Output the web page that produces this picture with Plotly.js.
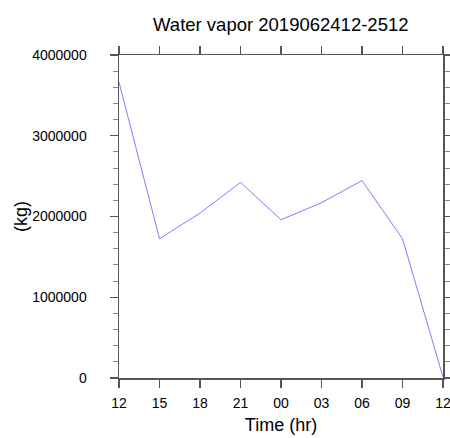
<!DOCTYPE html>
<html>
<head>
<meta charset="utf-8">
<script src="https://cdn.plot.ly/plotly-3.0.1.min.js"></script>
<style>html,body{margin:0;padding:0;background:#fff}#chart{width:450px;height:438px}</style>
</head>
<body>
<div id="chart"></div>
<script>
const timeLabels = ["12", "15", "18", "21", "00", "03", "06", "09", "12"];
const waterVapor = [3663000, 1725000, 2042000, 2422000, 1960000, 2171000, 2445000, 1725000, 12000];
const yTickVals = [0, 1000000, 2000000, 3000000, 4000000];
const yTickText = ["0", "1000000", "2000000", "3000000", "4000000"];

const xIdx = timeLabels.map((_, i) => i);
const font = {family: "Liberation Sans, Arial, Helvetica, sans-serif", color: "#000"};
const axisColor = "#555";

Plotly.newPlot("chart", [{
  x: xIdx,
  y: waterVapor,
  type: "scatter",
  mode: "lines",
  line: {color: "rgb(125,125,255)", width: 1},
  hoverinfo: "skip",
  cliponaxis: false
}], {
  width: 450, height: 438,
  margin: {l: 119, r: 7, t: 55, b: 60},
  paper_bgcolor: "#fff", plot_bgcolor: "#fff",
  showlegend: false,
  title: {text: "Water vapor 2019062412-2512", font: Object.assign({size: 18.5}, font), x: 0.624, xanchor: "center", y: 0.945, yanchor: "middle"},
  xaxis: {
    range: [0, 8], tickvals: xIdx, ticktext: timeLabels,
    showgrid: false, zeroline: false,
    showline: true, linecolor: axisColor, linewidth: 1.5, mirror: "ticks",
    ticks: "outside", ticklen: 8, tickwidth: 1.2, tickcolor: axisColor,
    tickfont: Object.assign({size: 14}, font), ticklabelstandoff: 4,
    ticklabeloverflow: "allow",
    title: {text: "Time (hr)", font: Object.assign({size: 18}, font), standoff: 8}
  },
  yaxis: {
    range: [0, 4000000], tickvals: yTickVals, ticktext: yTickText,
    showgrid: false, zeroline: false,
    showline: true, linecolor: axisColor, linewidth: 1.5, mirror: "ticks",
    ticks: "outside", ticklen: 8, tickwidth: 1.2, tickcolor: axisColor,
    minor: {dtick: 200000, tick0: 0, ticks: "outside", ticklen: 5, tickwidth: 1, tickcolor: "#888", showgrid: false},
    tickfont: Object.assign({size: 14}, font), ticklabelstandoff: 20,
    ticklabeloverflow: "allow",
    title: {text: "(kg)", font: Object.assign({size: 18}, font), standoff: 0}
  }
}, {displayModeBar: false, staticPlot: true});
</script>
</body>
</html>
